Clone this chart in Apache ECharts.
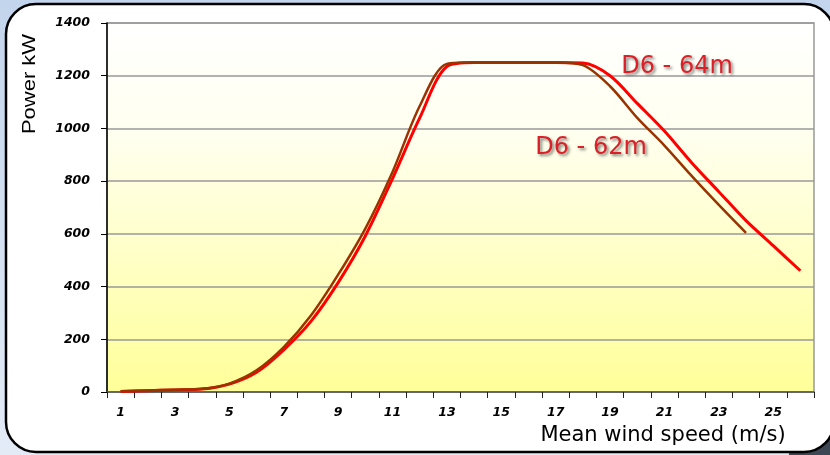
<!DOCTYPE html>
<html><head><meta charset="utf-8">
<script src="https://cdn.jsdelivr.net/npm/echarts@6/dist/echarts.min.js"></script>
<style>html,body{margin:0;padding:0;background:#d6e2f2}#c{width:830px;height:455px}</style>
</head><body><div id="c"></div>
<script>
// Categories: mean wind speed (m/s)
const windSpeeds = ['1','2','3','4','5','6','7','8','9','10','11','12','13','14','15','16','17','18','19','20','21','22','23','24','25','26'];
// Power kW, D6 - 64m rotor (red)
const powerD6_64 = [2, 5, 8, 11, 30, 75, 160, 268, 415, 592, 810, 1040, 1235, 1250, 1250, 1250, 1250, 1248, 1200, 1095, 990, 870, 760, 650, 555, 460];
// Power kW, D6 - 62m rotor (brown)
const powerD6_62 = [3, 6, 9, 12, 32, 82, 170, 290, 445, 620, 835, 1085, 1245, 1250, 1250, 1250, 1250, 1240, 1160, 1040, 935, 820, 710, 604];
const seriesNames = ['D6 - 64m', 'D6 - 62m'];
const yAxisTitle = 'Power kW';
const xAxisTitle = 'Mean wind speed (m/s)';

const chart = echarts.init(document.getElementById('c'), null, {renderer: 'canvas'});
const tickFont = {fontFamily: 'DejaVu Sans', fontWeight: 'bold', fontStyle: 'italic', fontSize: 12.5, color: '#000'};

function labelStyle(text) {
  return {text: text, fill: '#dc2028', font: '24px "DejaVu Sans"', align: 'center', verticalAlign: 'middle',
    textAlign: 'center', textVerticalAlign: 'middle',
    shadowColor: 'rgba(0,0,0,0.5)', shadowBlur: 3, shadowOffsetX: 2, shadowOffsetY: 2,
    textShadowColor: 'rgba(0,0,0,0.5)', textShadowBlur: 3, textShadowOffsetX: 2, textShadowOffsetY: 2};
}

chart.setOption({
  animation: false,
  backgroundColor: new echarts.graphic.LinearGradient(0, 0, 0, 1, [
    {offset: 0, color: '#c3d5ec'}, {offset: 1, color: '#e3ebf6'}
  ]),
  graphic: [
    {type: 'circle', z: -20, silent: true, shape: {cx: 838, cy: 464, r: 50}, style: {fill: '#3d4653'}},
    {type: 'rect', z: -10, silent: true, shape: {x: 6, y: 4, width: 828, height: 448, r: 30},
      style: {fill: '#ffffff', stroke: '#000000', lineWidth: 2.5}},
    {type: 'text', z: 100, silent: true, x: 30, y: 84, rotation: Math.PI / 2, scaleX: 1.22,
      style: {text: yAxisTitle, fill: '#000', font: '18px "Liberation Sans"', align: 'center', verticalAlign: 'middle', textAlign: 'center', textVerticalAlign: 'middle'}},
    {type: 'text', z: 100, silent: true, x: 663, y: 436,
      style: {text: xAxisTitle, fill: '#000', font: '21px "DejaVu Sans"', align: 'center', verticalAlign: 'middle', textAlign: 'center', textVerticalAlign: 'middle'}},
    {type: 'text', z: 100, silent: true, x: 677, y: 67, style: labelStyle(seriesNames[0])},
    {type: 'text', z: 100, silent: true, x: 591, y: 148, style: labelStyle(seriesNames[1])}
  ],
  grid: {
    left: 107, right: 16, top: 23, bottom: 63,
    show: true,
    borderColor: '#999', borderWidth: 1.5,
    backgroundColor: new echarts.graphic.LinearGradient(0, 0, 0, 1, [
      {offset: 0, color: '#ffffff'}, {offset: 0.3, color: '#fffff0'}, {offset: 1, color: '#ffff99'}
    ])
  },
  xAxis: {
    type: 'category',
    data: windSpeeds,
    boundaryGap: true,
    axisLine: {lineStyle: {color: '#555', width: 1.5}},
    axisTick: {show: true, interval: 0, length: 6, inside: false, lineStyle: {color: '#222', width: 1}},
    axisLabel: Object.assign({interval: 1, margin: 14}, tickFont),
    splitLine: {show: false}
  },
  yAxis: {
    type: 'value',
    min: 0, max: 1400, interval: 200,
    axisLine: {show: true, lineStyle: {color: '#000', width: 1.5}},
    axisTick: {show: true, length: 6, lineStyle: {color: '#000', width: 1}},
    axisLabel: Object.assign({margin: 17, formatter: function (v) { return String(v); }}, tickFont),
    splitLine: {show: true, lineStyle: {color: '#999', width: 1.5}}
  },
  series: [
    {name: seriesNames[0], type: 'line', data: powerD6_64, smooth: 0.3, symbol: 'none',
      lineStyle: {color: '#ff0000', width: 3}, z: 3},
    {name: seriesNames[1], type: 'line', data: powerD6_62, smooth: 0.3, symbol: 'none',
      lineStyle: {color: '#993300', width: 2.5}, z: 4}
  ]
});
</script>
</body></html>
